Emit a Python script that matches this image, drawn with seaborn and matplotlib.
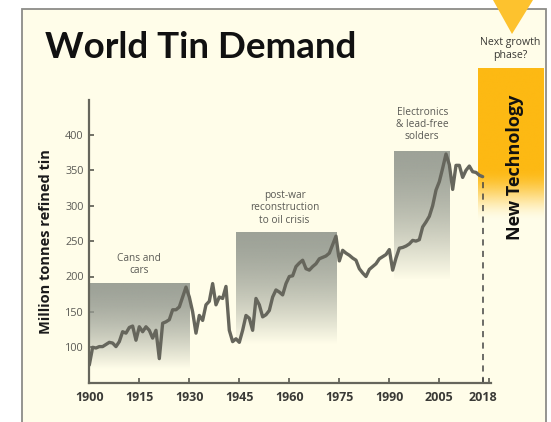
import numpy as np
import pandas as pd
import matplotlib
matplotlib.use("Agg")
import matplotlib.pyplot as plt
import seaborn as sns
from matplotlib.patches import Rectangle, Polygon
from matplotlib.colors import to_rgb

# --- data -------------------------------------------------------------
years = list(range(1900, 2019))
demand = [
    75, 100, 99, 101, 101, 104, 107, 106, 101, 108,          # 1900-1909
    122, 120, 128, 130, 110, 129, 122, 129, 124, 113,        # 1910-1919
    124, 84, 134, 136, 139, 153, 153, 157, 171, 185,         # 1920-1929
    171, 150, 120, 145, 138, 160, 165, 190, 160, 171,        # 1930-1939
    169, 186, 124, 108, 112, 107, 124, 145, 141, 124,        # 1940-1949
    169, 160, 143, 146, 152, 171, 181, 178, 174, 190,        # 1950-1959
    200, 201, 214, 219, 223, 211, 209, 214, 218, 225,        # 1960-1969
    227, 229, 233, 245, 257, 222, 237, 233, 230, 226,        # 1970-1979
    223, 211, 205, 200, 210, 214, 218, 225, 228, 231,        # 1980-1989
    238, 209, 226, 240, 241, 243, 246, 251, 250, 252,        # 1990-1999
    270, 277, 285, 300, 322, 334, 353, 373, 358, 323,        # 2000-2009
    357, 357, 340, 350, 356, 348, 347, 343, 341,             # 2010-2018
]

phase_labels = ["Cans and\ncars",
                "post-war\nreconstruction\nto oil crisis",
                "Electronics\n& lead-free\nsolders"]
phase_start = [1900, 1944, 1991.5]
phase_end = [1930, 1974, 2008]
phase_top = [191, 262, 376]
phase_fade = [70, 105, 195]
label_x = [1915, 1958.6, 1999.9]
label_y = [217, 297, 415]

x_ticks = [1900, 1915, 1930, 1945, 1960, 1975, 1990, 2005, 2018]
y_ticks = [100, 150, 200, 250, 300, 350, 400]

df = pd.DataFrame({"year": years, "demand": demand})

# --- style ------------------------------------------------------------
sns.set_style("ticks")
plt.rcParams["font.family"] = ["Open Sans", "DejaVu Sans"]

CREAM = "#FFFDE9"
LINE = "#66665C"
ORANGE = "#FDB913"
TEXT = "#5A5A55"

W, H = 551, 422
fig = plt.figure(figsize=(W / 100, H / 100), dpi=100, facecolor="white")

def fx(px):
    return px / W

def fy(py):
    return 1 - py / H

# outer framed panel (drawn underneath everything else)
fig.patches.append(Rectangle((fx(22), fy(425)), fx(546) - fx(22), fy(9) - fy(425),
                             transform=fig.transFigure, facecolor=CREAM,
                             edgecolor="#8C8C88", lw=1.3, zorder=-10))

ax = fig.add_axes([fx(89.3), fy(382.7), fx(491) - fx(89.3), fy(99.5) - fy(382.7)])
ax.set_facecolor("none")
ax.set_zorder(1)

# shaded growth phases, solid grey at the top fading out downwards
grey = np.array(to_rgb("#989D93"))
for x0, x1, top, bot in zip(phase_start, phase_end, phase_top, phase_fade):
    n = 256
    t = np.linspace(0, 1, n)[:, None]          # 0 = top, 1 = bottom
    alpha = np.clip(1 - t ** 1.6, 0, 1) * 0.95
    img = np.zeros((n, 2, 4))
    img[..., :3] = grey
    img[..., 3] = alpha
    ax.imshow(img, extent=[x0, x1, bot, top], aspect="auto",
              interpolation="bilinear", zorder=1)

sns.lineplot(data=df, x="year", y="demand", ax=ax, color=LINE, lw=2.4,
             zorder=3, legend=False)

ax.vlines(2018, 50, demand[-1], colors="#444444", linestyles=(0, (4, 3.5)),
          lw=1.1, zorder=2)

for txt, x, y in zip(phase_labels, label_x, label_y):
    ax.text(x, y, txt, ha="center", va="center", fontsize=7.3, color=TEXT,
            linespacing=1.15, zorder=4)

ax.set_xlim(1900, 2020.5)
ax.set_ylim(50, 450)
ax.set_xticks(x_ticks)
ax.set_xticks([2020], minor=True)
ax.set_yticks(y_ticks)
ax.set_xticklabels([str(v) for v in x_ticks], fontsize=9, fontweight="bold",
                   color="#3A3A36")
ax.set_yticklabels([str(v) for v in y_ticks], fontsize=7.8, color=TEXT)
ax.tick_params(axis="both", which="both", direction="in", length=3.5,
               width=1.3, color=LINE, pad=6)
ax.tick_params(axis="y", pad=4)
for s in ["top", "right"]:
    ax.spines[s].set_visible(False)
for s in ["left", "bottom"]:
    ax.spines[s].set_color(LINE)
    ax.spines[s].set_linewidth(1.6)
ax.set_xlabel("")
ax.set_ylabel("Million tonnes refined tin", fontsize=10.5, fontweight="bold",
              color="#1A1A1A", labelpad=9)

# title
fig.text(fx(45), fy(58.5), "World Tin Demand", fontsize=26.5, fontweight="bold",
         color="#111111", ha="left", va="baseline", family=["Lato", "DejaVu Sans"])

# next growth phase marker
fig.patches.append(Polygon([(fx(493), fy(0)), (fx(533), fy(0)), (fx(512), fy(34))],
                           closed=True, transform=fig.transFigure,
                           facecolor="#FDC22E", edgecolor="none", zorder=2))
fig.text(fx(510), fy(49), "Next growth\nphase?", ha="center", va="center",
         fontsize=7.6, color="#3A3A36", linespacing=1.15)

# orange "New Technology" band, fading at the bottom
band = fig.add_axes([fx(478), fy(222), fx(544) - fx(478), fy(68) - fy(222)])
band.set_axis_off()
band.set_zorder(0.5)
n = 256
t = np.linspace(0, 1, n)[:, None]
frac_solid = (168 - 68) / (222 - 68)
s = np.clip((t - frac_solid) / (1 - frac_solid), 0, 1)
alpha = 1 - (3 * s ** 2 - 2 * s ** 3)
img = np.zeros((n, 2, 4))
img[..., :3] = to_rgb(ORANGE)
img[..., 3] = alpha
band.imshow(img, extent=[0, 1, 0, 1], aspect="auto", interpolation="bilinear")
band.set_xlim(0, 1)
band.set_ylim(0, 1)

fig.text(fx(515), fy(167.5), "New Technology", rotation=90, ha="center",
         va="center", fontsize=13, fontweight="bold", color="#111111", zorder=5)

fig.savefig("out.png", dpi=100, facecolor="white")
